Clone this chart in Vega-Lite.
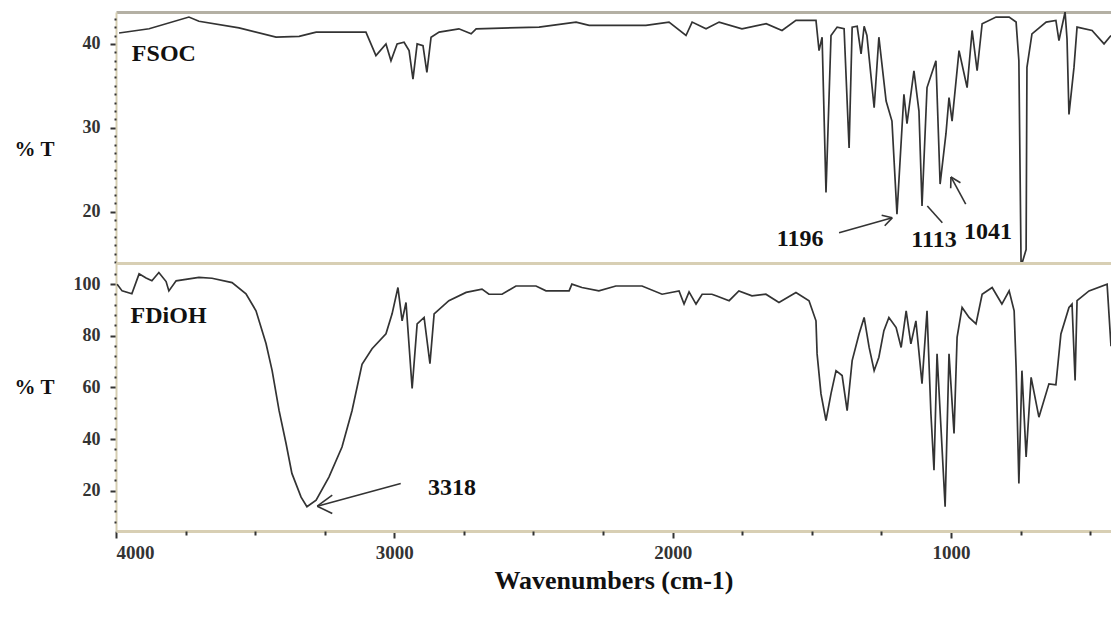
{
  "$schema": "https://vega.github.io/schema/vega-lite/v6.json",
  "background": "white",
  "padding": {"left": 13, "top": 12, "right": 0, "bottom": 5},
  "config": {
    "view": {"stroke": null},
    "font": "Liberation Serif",
    "concat": {"spacing": 0}
  },
  "datasets": {
    "fsoc": [
      {"wn":3989,"t":41.3},{"wn":3881,"t":41.8},{"wn":3738,"t":43.2},{"wn":3702,"t":42.7},{"wn":3558,"t":41.9},
      {"wn":3425,"t":40.8},{"wn":3342,"t":40.9},{"wn":3281,"t":41.4},{"wn":3102,"t":41.4},{"wn":3066,"t":38.6},
      {"wn":3030,"t":40.0},{"wn":3012,"t":38.0},{"wn":2990,"t":40.0},{"wn":2965,"t":40.2},{"wn":2947,"t":39.2},
      {"wn":2933,"t":35.8},{"wn":2918,"t":40.0},{"wn":2897,"t":39.8},{"wn":2883,"t":36.6},{"wn":2868,"t":40.8},
      {"wn":2839,"t":41.4},{"wn":2768,"t":41.8},{"wn":2724,"t":41.2},{"wn":2706,"t":41.8},{"wn":2480,"t":42.0},
      {"wn":2347,"t":42.6},{"wn":2300,"t":42.2},{"wn":2096,"t":42.2},{"wn":2013,"t":42.6},{"wn":1952,"t":41.0},
      {"wn":1930,"t":42.6},{"wn":1880,"t":41.8},{"wn":1833,"t":42.6},{"wn":1751,"t":41.8},{"wn":1664,"t":42.4},
      {"wn":1607,"t":41.6},{"wn":1557,"t":42.8},{"wn":1485,"t":42.8},{"wn":1474,"t":39.2},{"wn":1463,"t":40.8},
      {"wn":1449,"t":22.3},{"wn":1431,"t":41.0},{"wn":1409,"t":42.0},{"wn":1384,"t":41.8},{"wn":1366,"t":27.6},
      {"wn":1355,"t":42.0},{"wn":1337,"t":42.1},{"wn":1323,"t":38.8},{"wn":1312,"t":42.1},{"wn":1302,"t":41.0},
      {"wn":1276,"t":32.4},{"wn":1259,"t":40.8},{"wn":1233,"t":33.2},{"wn":1212,"t":30.8},{"wn":1194,"t":19.7},
      {"wn":1169,"t":34.0},{"wn":1158,"t":30.5},{"wn":1133,"t":36.8},{"wn":1115,"t":32.0},{"wn":1104,"t":20.7},
      {"wn":1086,"t":34.8},{"wn":1054,"t":38.0},{"wn":1039,"t":23.3},{"wn":1018,"t":29.3},{"wn":1007,"t":33.6},
      {"wn":996,"t":30.8},{"wn":971,"t":39.2},{"wn":942,"t":34.8},{"wn":924,"t":41.6},{"wn":906,"t":36.8},
      {"wn":888,"t":42.4},{"wn":838,"t":43.2},{"wn":791,"t":43.2},{"wn":766,"t":42.6},{"wn":756,"t":38.0},
      {"wn":748,"t":13.5},{"wn":730,"t":15.5},{"wn":727,"t":37.2},{"wn":709,"t":41.2},{"wn":658,"t":42.6},
      {"wn":623,"t":42.8},{"wn":612,"t":40.4},{"wn":590,"t":43.8},{"wn":583,"t":40.6},{"wn":576,"t":31.6},
      {"wn":558,"t":37.2},{"wn":547,"t":42.0},{"wn":493,"t":41.6},{"wn":450,"t":40.0},{"wn":425,"t":41.0}
    ],
    "fdioh": [
      {"wn":3996,"t":100},{"wn":3978,"t":97.4},{"wn":3943,"t":96.3},{"wn":3917,"t":104},{"wn":3892,"t":102.4},
      {"wn":3871,"t":101.3},{"wn":3846,"t":104.5},{"wn":3820,"t":101},{"wn":3810,"t":97.4},{"wn":3784,"t":101.3},
      {"wn":3702,"t":102.6},{"wn":3655,"t":102.3},{"wn":3583,"t":100.6},{"wn":3533,"t":96.3},{"wn":3497,"t":89.7},
      {"wn":3461,"t":77},{"wn":3439,"t":66.5},{"wn":3414,"t":51},{"wn":3389,"t":38.3},{"wn":3368,"t":26.7},
      {"wn":3335,"t":17.5},{"wn":3314,"t":13.8},{"wn":3281,"t":16.3},{"wn":3235,"t":25.3},{"wn":3188,"t":36.9},
      {"wn":3152,"t":51},{"wn":3116,"t":69},{"wn":3080,"t":75},{"wn":3030,"t":80.8},{"wn":3008,"t":88.5},
      {"wn":2987,"t":98.7},{"wn":2972,"t":85.8},{"wn":2958,"t":92.9},{"wn":2936,"t":59.6},{"wn":2918,"t":84.6},
      {"wn":2893,"t":87.1},{"wn":2872,"t":69.2},{"wn":2857,"t":88.5},{"wn":2804,"t":93.6},{"wn":2742,"t":96.8},
      {"wn":2685,"t":98.1},{"wn":2660,"t":96.1},{"wn":2613,"t":96.1},{"wn":2563,"t":99.3},{"wn":2491,"t":99.3},
      {"wn":2455,"t":97.4},{"wn":2372,"t":97.4},{"wn":2362,"t":100},{"wn":2326,"t":98.7},{"wn":2265,"t":97.4},
      {"wn":2204,"t":99.3},{"wn":2110,"t":99.3},{"wn":2038,"t":96.1},{"wn":1977,"t":97.4},{"wn":1959,"t":92.3},
      {"wn":1941,"t":97},{"wn":1916,"t":92.3},{"wn":1894,"t":96.1},{"wn":1859,"t":96.1},{"wn":1844,"t":95.5},
      {"wn":1797,"t":93.6},{"wn":1762,"t":97.4},{"wn":1715,"t":95.5},{"wn":1665,"t":96.1},{"wn":1618,"t":92.9},
      {"wn":1557,"t":96.8},{"wn":1510,"t":93.6},{"wn":1485,"t":85.8},{"wn":1481,"t":73},{"wn":1467,"t":57.5},
      {"wn":1449,"t":47.2},{"wn":1431,"t":57.6},{"wn":1413,"t":66.5},{"wn":1391,"t":64.6},{"wn":1373,"t":51},
      {"wn":1355,"t":70.4},{"wn":1330,"t":80.8},{"wn":1312,"t":87.1},{"wn":1294,"t":75.5},{"wn":1276,"t":66.5},
      {"wn":1259,"t":71.7},{"wn":1241,"t":82},{"wn":1223,"t":87.1},{"wn":1197,"t":83.2},{"wn":1179,"t":75.5},
      {"wn":1161,"t":89.7},{"wn":1144,"t":76.9},{"wn":1126,"t":85.8},{"wn":1104,"t":61.5},{"wn":1086,"t":89.7},
      {"wn":1072,"t":49.8},{"wn":1061,"t":27.9},{"wn":1050,"t":73},{"wn":1036,"t":44.6},{"wn":1021,"t":13.8},
      {"wn":1007,"t":73},{"wn":989,"t":42.2},{"wn":978,"t":79.4},{"wn":960,"t":91},{"wn":935,"t":87.1},
      {"wn":910,"t":84.6},{"wn":888,"t":96.1},{"wn":852,"t":98.7},{"wn":817,"t":92.3},{"wn":791,"t":97.4},
      {"wn":773,"t":89.7},{"wn":766,"t":67.8},{"wn":756,"t":22.8},{"wn":745,"t":66.5},{"wn":730,"t":33.1},
      {"wn":712,"t":63.9},{"wn":684,"t":48.5},{"wn":648,"t":61.4},{"wn":623,"t":61},{"wn":605,"t":80.7},
      {"wn":576,"t":91},{"wn":565,"t":92.3},{"wn":554,"t":62.7},{"wn":547,"t":93.6},{"wn":504,"t":97.4},
      {"wn":439,"t":100},{"wn":425,"t":76}
    ],
    "top_text": [
      {"wn":1542,"t":16.8,"label":"1196"},
      {"wn":1061,"t":16.6,"label":"1113"},
      {"wn":867,"t":17.6,"label":"1041"},
      {"wn":3828,"t":38.8,"label":"FSOC"}
    ],
    "top_arrows": [
      {"wn":1402,"t":17.5,"wn2":1211,"t2":19.28},
      {"wn":1211,"t":19.28,"wn2":1249,"t2":19.6},
      {"wn":1211,"t":19.28,"wn2":1238,"t2":18.34},
      {"wn":1085,"t":20.68,"wn2":1031,"t2":18.7},
      {"wn":947,"t":20.92,"wn2":1000,"t2":24.15},
      {"wn":1000,"t":24.15,"wn2":1001,"t2":22.8},
      {"wn":1000,"t":24.15,"wn2":966,"t2":23.46}
    ],
    "bot_text": [
      {"wn":2793,"t":21.0,"label":"3318"},
      {"wn":3811,"t":87.8,"label":"FDiOH"}
    ],
    "bot_arrows": [
      {"wn":2977,"t":22.8,"wn2":3277,"t2":14.0},
      {"wn":3277,"t":14.0,"wn2":3223,"t2":18.26},
      {"wn":3277,"t":14.0,"wn2":3223,"t2":11.2}
    ]
  },
  "vconcat": [
    {
      "width": 995,
      "height": 251,
      "resolve": {"axis": {"y": "independent"}},
      "layer": [
        {
          "data": {"name": "fsoc"},
          "mark": {"type": "line", "color": "#333333", "strokeWidth": 1.7, "clip": true},
          "encoding": {
            "x": {"field": "wn", "type": "quantitative", "scale": {"domain": [4000, 425], "nice": false, "zero": false},
              "axis": {"orient": "top", "labels": false, "ticks": false, "grid": false, "title": null, "domainColor": "#b4b0a4", "domainWidth": 3}},
            "y": {"field": "t", "type": "quantitative", "scale": {"domain": [13.9, 43.8], "nice": false, "zero": false},
              "axis": {
                "orient": "left",
                "values": [20, 30, 40],
                "grid": false,
                "domainColor": "#d6ceb2", "domainWidth": 2,
                "tickColor": "#333333", "tickWidth": 2, "tickSize": 6,
                "labelFont": "Liberation Serif", "labelFontSize": 18, "labelFontWeight": "bold", "labelColor": "#333333", "labelPadding": 10,
                "title": "% T", "titleFont": "Liberation Serif", "titleFontSize": 21, "titleFontWeight": "bold", "titleColor": "#111111",
                "titleAngle": 0, "titleAlign": "right", "titleBaseline": "middle", "titleX": -62, "titleY": 137
              }}
          }
        },
        {
          "data": {"name": "top_text"},
          "mark": {"type": "text", "font": "Liberation Serif", "fontSize": 24, "fontWeight": "bold", "color": "#111111", "baseline": "middle", "align": "center"},
          "encoding": {
            "x": {"field": "wn", "type": "quantitative"},
            "y": {"field": "t", "type": "quantitative",
              "axis": {
                "orient": "left",
                "values": [14,15,16,17,18,19,21,22,23,24,25,26,27,28,29,31,32,33,34,35,36,37,38,39,41,42,43],
                "labels": false, "domain": false, "grid": false, "title": null,
                "tickColor": "#333333", "tickWidth": 2, "tickSize": 2
              }},
            "text": {"field": "label", "type": "nominal"}
          }
        },
        {
          "data": {"name": "top_arrows"},
          "mark": {"type": "rule", "color": "#333333", "strokeWidth": 1.6},
          "encoding": {
            "x": {"field": "wn", "type": "quantitative"},
            "y": {"field": "t", "type": "quantitative", "axis": null},
            "x2": {"field": "wn2"},
            "y2": {"field": "t2"}
          }
        }
      ]
    },
    {
      "width": 995,
      "height": 268,
      "resolve": {"axis": {"x": "independent", "y": "independent"}},
      "layer": [
        {
          "data": {"name": "fdioh"},
          "mark": {"type": "line", "color": "#333333", "strokeWidth": 1.7, "clip": true},
          "encoding": {
            "x": {"field": "wn", "type": "quantitative", "scale": {"domain": [4000, 425], "nice": false, "zero": false},
              "axis": {
                "orient": "bottom",
                "values": [4000, 3000, 2000, 1000],
                "format": "d",
                "grid": false,
                "domainColor": "#d8cfb4", "domainWidth": 3,
                "tickColor": "#333333", "tickWidth": 2, "tickSize": 7,
                "labelFont": "Liberation Serif", "labelFontSize": 19, "labelFontWeight": "bold", "labelColor": "#333333", "labelPadding": 5,
                "title": "Wavenumbers (cm-1)", "titleFont": "Liberation Serif", "titleFontSize": 26, "titleFontWeight": "bold", "titleColor": "#111111", "titlePadding": 5
              }},
            "y": {"field": "t", "type": "quantitative", "scale": {"domain": [4.4, 108.2], "nice": false, "zero": false},
              "axis": {
                "orient": "left",
                "values": [20, 40, 60, 80, 100],
                "grid": false,
                "domainColor": "#d6ceb2", "domainWidth": 2,
                "tickColor": "#333333", "tickWidth": 2, "tickSize": 6,
                "labelFont": "Liberation Serif", "labelFontSize": 18, "labelFontWeight": "bold", "labelColor": "#333333", "labelPadding": 10,
                "title": "% T", "titleFont": "Liberation Serif", "titleFontSize": 21, "titleFontWeight": "bold", "titleColor": "#111111",
                "titleAngle": 0, "titleAlign": "right", "titleBaseline": "middle", "titleX": -62, "titleY": 124
              }}
          }
        },
        {
          "data": {"name": "bot_text"},
          "mark": {"type": "text", "font": "Liberation Serif", "fontSize": 24, "fontWeight": "bold", "color": "#111111", "baseline": "middle", "align": "center"},
          "encoding": {
            "x": {"field": "wn", "type": "quantitative",
              "axis": {"orient": "top", "labels": false, "ticks": false, "grid": false, "title": null, "domainColor": "#d8cfb4", "domainWidth": 3}},
            "y": {"field": "t", "type": "quantitative",
              "axis": {
                "orient": "left",
                "values": [8,12,16,24,28,32,36,44,48,52,56,64,68,72,76,84,88,92,96,104],
                "labels": false, "domain": false, "grid": false, "title": null,
                "tickColor": "#333333", "tickWidth": 2, "tickSize": 2
              }},
            "text": {"field": "label", "type": "nominal"}
          }
        },
        {
          "data": {"name": "bot_arrows"},
          "mark": {"type": "rule", "color": "#333333", "strokeWidth": 1.6},
          "encoding": {
            "x": {"field": "wn", "type": "quantitative",
              "axis": {
                "orient": "bottom",
                "values": [3750,3500,3250,2750,2500,2250,1750,1500,1250,750,500],
                "labels": false, "domain": false, "grid": false, "title": null,
                "tickColor": "#333333", "tickWidth": 2, "tickSize": 4
              }},
            "y": {"field": "t", "type": "quantitative", "axis": null},
            "x2": {"field": "wn2"},
            "y2": {"field": "t2"}
          }
        }
      ]
    }
  ]
}
